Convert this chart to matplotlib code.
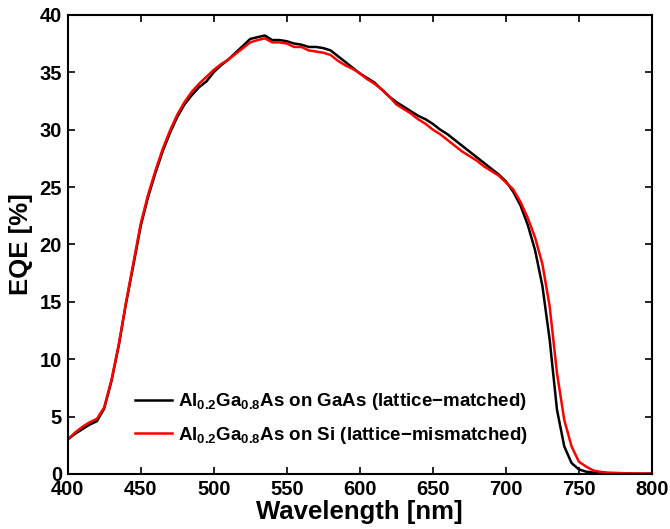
#!/usr/bin/env python
"""EQE spectra of Al0.2Ga0.8As cells on GaAs and on Si."""

import matplotlib
matplotlib.use("Agg")
import matplotlib.pyplot as plt

plt.rcParams["font.family"] = ["Liberation Sans", "DejaVu Sans"]
plt.rcParams["font.weight"] = "bold"
plt.rcParams["mathtext.default"] = "regular"

wavelength = [400, 405, 410, 415, 420, 425, 430, 435, 440, 445, 450, 455, 460, 465,
              470, 475, 480, 485, 490, 495, 500, 505, 510, 515, 520, 525, 530, 535,
              540, 545, 550, 555, 560, 565, 570, 575, 580, 585, 590, 595, 600, 605,
              610, 615, 620, 625, 630, 635, 640, 645, 650, 655, 660, 665, 670, 675,
              680, 685, 690, 695, 700, 705, 710, 715, 720, 725, 730, 735, 740, 745,
              750, 755, 760, 765, 770, 780, 790, 800]

eqe_gaas = [3.0, 3.5, 3.9, 4.3, 4.6, 5.7, 8.1, 11.2, 14.9, 18.2, 21.6, 24.1, 26.2, 28.1,
            29.7, 31.1, 32.2, 33.0, 33.7, 34.2, 35.0, 35.6, 36.1, 36.7, 37.3, 37.9, 38.05, 38.2,
            37.8, 37.8, 37.7, 37.5, 37.4, 37.2, 37.2, 37.1, 36.9, 36.4, 35.9, 35.4, 34.9, 34.5,
            34.1, 33.5, 32.9, 32.4, 32.0, 31.6, 31.2, 30.9, 30.5, 30.0, 29.6, 29.1, 28.6, 28.1,
            27.6, 27.1, 26.6, 26.1, 25.5, 24.6, 23.4, 21.7, 19.5, 16.4, 11.7, 5.6, 2.4, 0.95,
            0.4, 0.2, 0.12, 0.08, 0.05, 0.03, 0.02, 0.02]

eqe_si = [3.0, 3.6, 4.1, 4.5, 4.8, 5.8, 8.2, 11.3, 15.0, 18.4, 21.8, 24.3, 26.4, 28.3,
          29.9, 31.3, 32.4, 33.3, 34.0, 34.6, 35.2, 35.7, 36.1, 36.6, 37.1, 37.6, 37.8, 37.95,
          37.6, 37.6, 37.5, 37.2, 37.2, 36.9, 36.8, 36.7, 36.5, 36.0, 35.6, 35.3, 34.9, 34.4,
          34.0, 33.5, 32.9, 32.2, 31.8, 31.4, 30.9, 30.5, 30.0, 29.6, 29.1, 28.6, 28.1, 27.7,
          27.3, 26.8, 26.4, 26.0, 25.4, 24.8, 23.7, 22.3, 20.6, 18.3, 14.6, 8.8, 4.7, 2.4,
          1.07, 0.64, 0.3, 0.18, 0.12, 0.07, 0.04, 0.03]

label_gaas = r"Al$_{0.2}$Ga$_{0.8}$As on GaAs (lattice$-$matched)"
label_si = r"Al$_{0.2}$Ga$_{0.8}$As on Si (lattice$-$mismatched)"


def main() -> int:
    fig = plt.figure(figsize=(6.7, 5.29), dpi=100)
    ax = fig.add_axes([0.101, 0.104, 0.872, 0.868])
    ax.plot(wavelength, eqe_gaas, color="black", lw=1.8, label=label_gaas)
    ax.plot(wavelength, eqe_si, color="#ff0000", lw=1.8, label=label_si)

    ax.set_xlim(400, 800)
    ax.set_ylim(0, 40)
    ax.set_xticks(range(400, 801, 50))
    ax.set_yticks(range(0, 41, 5))
    ax.tick_params(direction="in", length=5, width=1.2, top=True, right=True,
                   labelsize=14.5)
    ax.tick_params(axis="x", pad=4)
    ax.tick_params(axis="y", pad=4)
    for sp in ax.spines.values():
        sp.set_linewidth(1.5)
    ax.set_xlabel("Wavelength [nm]", fontsize=18.5, fontweight="bold", labelpad=1)
    ax.set_ylabel("EQE [%]", fontsize=18.5, fontweight="bold", labelpad=5)

    ax.legend(loc="lower left", bbox_to_anchor=(0.115, 0.062), frameon=False,
              borderaxespad=0, borderpad=0, handlelength=2.0, handletextpad=0.32,
              labelspacing=0.65, prop={"weight": "bold", "size": 13.5})

    fig.savefig("out.png", dpi=100)
    plt.close(fig)
    return 0


if __name__ == "__main__":
    raise SystemExit(main())
